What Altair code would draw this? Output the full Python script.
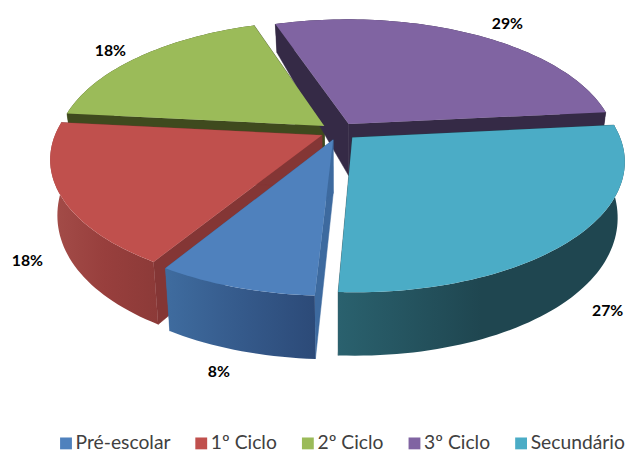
import math
import altair as alt

categories = ["Pré-escolar", "1º Ciclo", "2º Ciclo", "3º Ciclo", "Secundário"]
shares = [8.0, 17.8, 18.2, 28.6, 27.4]
labels = ["8%", "18%", "18%", "29%", "27%"]
top_colors = ["#4F81BD", "#C0504D", "#9BBB59", "#8064A2", "#4BACC6"]
edge_colors = ["#3D6A9F", "#843635", "#3F4A1E", "#352A46", "#1F4650"]
wall_left = ["#3F6C9F", "#A44D49", "#3F4A1E", "#352A46", "#2A616E"]
wall_mid = ["#355A8B", "#983F3D", "#3F4A1E", "#352A46", "#1F4650"]
wall_right = ["#2C4A78", "#8C3A38", "#3F4A1E", "#352A46", "#1F4650"]
label_nudge = [(-2, 11), (1, 5), (-10, 2), (23, -1), (2, 7)]

CX, CY, RX, RY, K = 343.0, 130.0, 269.0, 127.0, 0.175
EXPLODE, START = 0.07, 183.0
SHRINK = 0.975


def project(u, v, wall=False):
    s = 1 / (1 - K * v)
    x = CX + RX * u * s
    y = CY + RY * v * s
    if wall:
        x = CX + (x - CX) * SHRINK
        y += 53 + 17.5 * v - 6.5 * v * v
    return [x, y]


def feature(ring, **props):
    return {"type": "Feature", "properties": props,
            "geometry": {"type": "Polygon", "coordinates": [ring + [ring[0]]]}}


spans = []
angle = START
for share in shares:
    spans.append((angle, angle + share * 3.6))
    angle += share * 3.6

tops, edges, outers = {}, {}, {}
text_rows = []
for i, (a0, a1) in enumerate(spans):
    mid = math.radians((a0 + a1) / 2)
    ou, ov = EXPLODE * math.sin(mid), -EXPLODE * math.cos(mid)
    steps = max(8, int((a1 - a0) / 1.5))
    arc = []
    for j in range(steps + 1):
        th = math.radians(a0 + (a1 - a0) * j / steps)
        arc.append((ou + math.sin(th), ov - math.cos(th)))
    tip = (ou, ov)
    tops[i] = feature([project(*tip)] + [project(*p) for p in arc], cat=categories[i])
    edges[i] = [
        feature([project(*tip), project(*end), project(*end, True), project(*tip, True)], color=edge_colors[i])
        for end in (arc[0], arc[-1])
    ]
    outers[i] = feature([project(*p) for p in arc] + [project(*p, True) for p in reversed(arc)], cat=categories[i])
    lx, ly = project(ou + 1.12 * math.sin(mid), ov - 1.12 * math.cos(mid))
    if math.cos(mid) < 0:
        ly += 53
    text_rows.append({"lon": lx + label_nudge[i][0], "lat": ly + label_nudge[i][1], "text": labels[i]})

paint_order = [2, 3, 1, 4, 0]
proj = alt.Projection(type="identity", scale=1, translate=[-8, -8]).to_dict()

layers = []
for i in paint_order:
    layers.append(
        alt.Chart(alt.Data(values=edges[i])).mark_geoshape(strokeWidth=0.5).encode(
            color=alt.Color("properties.color:N", scale=None, legend=None),
            stroke=alt.Stroke("properties.color:N", scale=None, legend=None),
        ).project(**proj)
    )
    gradient = alt.Gradient(
        gradient="linear", x1=0, x2=1, y1=0, y2=0,
        stops=[alt.GradientStop(color=wall_left[i], offset=0),
               alt.GradientStop(color=wall_mid[i], offset=0.5),
               alt.GradientStop(color=wall_right[i], offset=1)],
    )
    layers.append(
        alt.Chart(alt.Data(values=[outers[i]])).mark_geoshape(fill=gradient, strokeWidth=0).project(**proj)
    )

top_layer = alt.Chart(alt.Data(values=[tops[i] for i in paint_order])).mark_geoshape(strokeWidth=0).encode(
    color=alt.Color(
        "properties.cat:N",
        scale=alt.Scale(domain=categories, range=top_colors),
        legend=alt.Legend(
            orient="none", legendX=49, legendY=428, direction="horizontal", columns=5,
            title=None, symbolType="square", symbolSize=144, symbolStrokeWidth=0,
            labelFont="Lato", labelFontSize=19.5, labelColor="#404040",
            columnPadding=21, labelOffset=0,
        ),
    ),
).project(**proj)

text_layer = alt.Chart(alt.Data(values=text_rows)).mark_text(
    font="Lato", fontWeight="bold", fontSize=16, color="#000000"
).encode(longitude="lon:Q", latitude="lat:Q", text="text:N").project(**proj)

chart = alt.layer(*layers, top_layer, text_layer).resolve_scale(color="independent", stroke="independent").properties(
    width=625, height=452, padding=0, autosize=alt.AutoSizeParams(type="none")
).configure_view(stroke=None)

chart.save("out.html", embed_options={"renderer": "svg", "actions": False})
